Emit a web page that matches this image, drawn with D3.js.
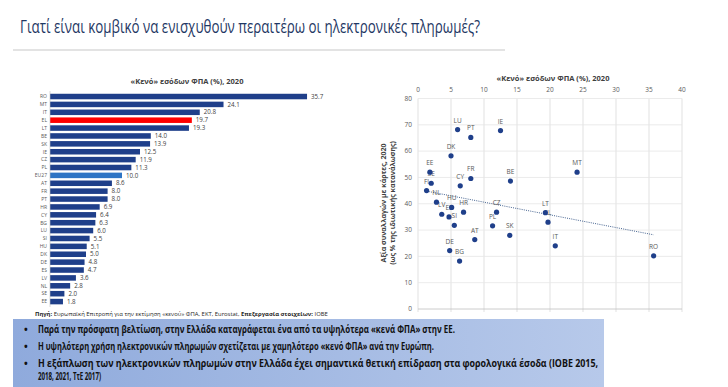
<!DOCTYPE html>
<html><head><meta charset="utf-8">
<script src="https://cdn.jsdelivr.net/npm/d3@7"></script>
<style>body{margin:0;background:#fff;}svg{display:block;}</style>
</head><body>
<script>
// ---- Data ----
const barCountries = ["RO","MT","IT","EL","LT","BE","SK","IE","CZ","PL","EU27","AT","FR","PT","HR","CY","BG","LU","SI","HU","DK","DE","ES","LV","NL","SE","EE"];
const barValues = [35.7,24.1,20.8,19.7,19.3,14.0,13.9,12.5,11.9,11.3,10.0,8.6,8.0,8.0,6.9,6.4,6.3,6.0,5.5,5.1,5.0,4.8,4.7,3.6,2.8,2.0,1.8];

const scatterCountries = ["LU","PT","IE","DK","EE","SE","FI","NL","HU","LV","ES","SI","HR","CY","FR","BE","MT","CZ","PL","SK","LT","EL","IT","AT","DE","BG","RO"];
const scatterVatGap =    [6.0, 8.0, 12.5,5.0, 1.8, 2.0, 1.3, 2.8, 5.1, 3.6, 4.7, 5.5, 6.9, 6.4, 8.0, 14.0,24.1,11.9,11.3,13.9,19.3,19.7,20.8,8.6, 4.8, 6.3, 35.7];
const scatterCardValue = [68.2,65.2,67.8,58.2,52.0,47.8,45.0,40.6,38.6,36.0,35.0,31.8,36.8,46.8,49.6,48.6,52.0,36.8,31.6,28.0,36.6,33.0,24.0,26.4,22.2,18.2,20.2];
const trendX = [1.3, 35.7];
const trendY = [44.8, 28.2];

const xTicks = [0,5,10,15,20,25,30,35,40];
const yTicks = [0,10,20,30,40,50,60,70,80];

const titleText = "Γιατί είναι κομβικό να ενισχυθούν περαιτέρω οι ηλεκτρονικές πληρωμές?";
const chartTitle = "«Κενό» εσόδων ΦΠΑ (%), 2020";
const yLabel1 = "Αξία συναλλαγών με κάρτες, 2020";
const yLabel2 = "(ως % της ιδιωτικής κατανάλωσης)";
const bullets = [
  "Παρά την πρόσφατη βελτίωση, στην Ελλάδα καταγράφεται ένα από τα υψηλότερα «κενά ΦΠΑ» στην ΕΕ.",
  "Η υψηλότερη χρήση ηλεκτρονικών πληρωμών σχετίζεται με χαμηλότερο «κενό ΦΠΑ» ανά την Ευρώπη.",
  "Η εξάπλωση των ηλεκτρονικών πληρωμών στην Ελλάδα έχει σημαντικά θετική επίδραση στα φορολογικά έσοδα (ΙΟΒΕ 2015,"
];
const bulletCont = "2018, 2021, ΤτΕ 2017)";

// ---- Drawing ----
const W = 728, H = 387;
const font = "'Liberation Sans Narrow','Open Sans',sans-serif";
const svg = d3.select("body").append("svg").attr("width", W).attr("height", H)
  .style("font-family", font);

// Title
svg.append("text").attr("x", 20).attr("y", 33).attr("fill", "#1f3864")
  .attr("font-size", 19).attr("textLength", 460).attr("lengthAdjust", "spacingAndGlyphs")
  .text(titleText);
svg.append("line").attr("x1", 13).attr("x2", 505).attr("y1", 50).attr("y2", 50)
  .attr("stroke", "#e3e3e3").attr("stroke-width", 2);

// ---- Bar chart ----
const bx = d3.scaleLinear().domain([0, 40]).range([50, 338]);
const by = d3.scaleBand().domain(barCountries).range([91.4, 306.7]).padding(0.3);

svg.append("text").attr("x", 187).attr("y", 84).attr("text-anchor", "middle")
  .attr("font-size", 7.5).attr("font-weight", "bold").attr("fill", "#404040").text(chartTitle);

const bars = svg.append("g");
bars.selectAll("rect").data(barCountries).join("rect")
  .attr("x", bx(0)).attr("y", d => by(d))
  .attr("width", (d, i) => bx(barValues[i]) - bx(0))
  .attr("height", by.bandwidth())
  .attr("fill", d => d === "EL" ? "#ff0000" : d === "EU27" ? "#2e74c4" : "#1f3f8a");
bars.append("line").attr("x1", bx(0)).attr("x2", bx(0)).attr("y1", 91).attr("y2", 307)
  .attr("stroke", "#bfbfbf").attr("stroke-width", 0.6);
bars.selectAll("text.cat").data(barCountries).join("text").attr("class", "cat")
  .attr("x", bx(0) - 3).attr("y", d => by(d) + by.bandwidth() / 2 + 1.8)
  .attr("text-anchor", "end").attr("font-size", 5).attr("fill", "#595959").text(d => d);
bars.selectAll("text.val").data(barCountries).join("text").attr("class", "val")
  .attr("x", (d, i) => bx(barValues[i]) + 4).attr("y", d => by(d) + by.bandwidth() / 2 + 2.2)
  .attr("font-size", 6.2).attr("fill", "#404040").text((d, i) => barValues[i].toFixed(1));

// Source
const src = svg.append("text").attr("x", 35).attr("y", 316).attr("font-size", 5.9).attr("fill", "#262626");
src.append("tspan").attr("font-weight", "bold").text("Πηγή:");
src.append("tspan").text(" Ευρωπαϊκή Επιτροπή για την εκτίμηση «κενού» ΦΠΑ, ΕΚΤ, Eurostat, ");
src.append("tspan").attr("font-weight", "bold").text("Επεξεργασία στοιχείων:");
src.append("tspan").text(" ΙΟΒΕ");

// ---- Scatter ----
const sx = d3.scaleLinear().domain([0, 40]).range([418, 682]);
const sy = d3.scaleLinear().domain([0, 80]).range([309, 98.5]);
const sc = svg.append("g");

sc.append("text").attr("x", 553).attr("y", 81).attr("text-anchor", "middle")
  .attr("font-size", 7.5).attr("font-weight", "bold").attr("fill", "#404040").text(chartTitle);

sc.selectAll("line.gx").data(xTicks).join("line").attr("class", "gx")
  .attr("x1", d => sx(d)).attr("x2", d => sx(d)).attr("y1", sy(80)).attr("y2", sy(0) + 3)
  .attr("stroke", "#d9d9d9").attr("stroke-width", 0.8);
sc.selectAll("line.gy").data(yTicks).join("line").attr("class", "gy")
  .attr("x1", sx(0)).attr("x2", sx(40)).attr("y1", d => sy(d)).attr("y2", d => sy(d))
  .attr("stroke", d => d === 0 ? "#bfbfbf" : "#e6e6e6").attr("stroke-width", 0.8);

sc.selectAll("text.tx").data(xTicks).join("text").attr("class", "tx")
  .attr("x", d => sx(d)).attr("y", 91.5).attr("text-anchor", "middle")
  .attr("font-size", 6.5).attr("fill", "#595959").text(d => d);
sc.selectAll("text.ty").data(yTicks).join("text").attr("class", "ty")
  .attr("x", 412).attr("y", d => sy(d) + 2.3).attr("text-anchor", "end")
  .attr("font-size", 6.5).attr("fill", "#595959").text(d => d);

const yl = sc.append("g").attr("transform", "translate(389,203) rotate(-90)");
yl.append("text").attr("x", 0).attr("y", -3).attr("text-anchor", "middle")
  .attr("font-size", 7).attr("font-weight", "bold").attr("fill", "#404040").text(yLabel1);
yl.append("text").attr("x", 0).attr("y", 6).attr("text-anchor", "middle")
  .attr("font-size", 7).attr("font-weight", "bold").attr("fill", "#404040").text(yLabel2);

sc.append("line").attr("x1", sx(trendX[0])).attr("y1", sy(trendY[0]))
  .attr("x2", sx(trendX[1])).attr("y2", sy(trendY[1]))
  .attr("stroke", "#44628f").attr("stroke-width", 1).attr("stroke-dasharray", "1,1.2");

sc.selectAll("text.pl").data(scatterCountries).join("text").attr("class", "pl")
  .attr("x", (d, i) => sx(scatterVatGap[i])).attr("y", (d, i) => sy(scatterCardValue[i]) - 7)
  .attr("text-anchor", "middle").attr("font-size", 6.5).attr("fill", "#595959").text(d => d);
// points drawn over labels (as in the reference, points overlap some labels)
sc.selectAll("circle").data(scatterCountries).join("circle")
  .attr("cx", (d, i) => sx(scatterVatGap[i])).attr("cy", (d, i) => sy(scatterCardValue[i]))
  .attr("r", 2.6).attr("fill", "#1f3f8a");

// ---- Bottom panel ----
const defs = svg.append("defs");
const grad = defs.append("linearGradient").attr("id", "pg").attr("x1", "0").attr("x2", "1");
grad.append("stop").attr("offset", "0").attr("stop-color", "#8faadc");
grad.append("stop").attr("offset", "1").attr("stop-color", "#b7c9ea");
svg.append("rect").attr("x", 13).attr("y", 319).attr("width", 591).attr("height", 68).attr("fill", "url(#pg)");

const lineY = [333, 350, 367];
const lineW = [417, 396, 560];
bullets.forEach((t, i) => {
  svg.append("text").attr("x", 24).attr("y", lineY[i]).attr("font-size", 10).attr("font-weight", "bold")
    .attr("fill", "#111").text("•");
  svg.append("text").attr("x", 38).attr("y", lineY[i]).attr("font-size", 10.5).attr("font-weight", "bold")
    .attr("fill", "#111").attr("textLength", lineW[i]).attr("lengthAdjust", "spacingAndGlyphs").text(t);
});
svg.append("text").attr("x", 38).attr("y", 380).attr("font-size", 10.5).attr("font-weight", "bold")
  .attr("fill", "#111").attr("textLength", 63).attr("lengthAdjust", "spacingAndGlyphs").text(bulletCont);
</script>
</body></html>
